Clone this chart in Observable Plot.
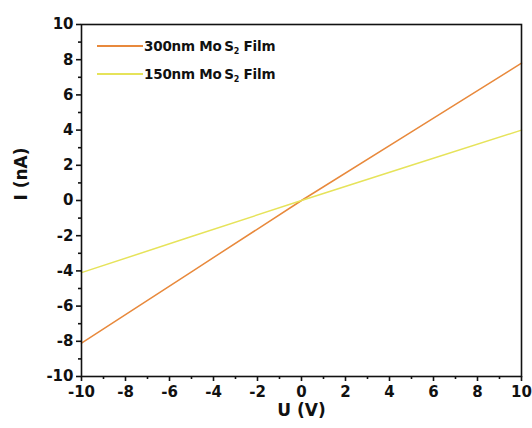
<!DOCTYPE html>
<html>
<head>
<meta charset="utf-8">
<script src="https://cdn.jsdelivr.net/npm/d3@7"></script>
<script src="https://cdn.jsdelivr.net/npm/@observablehq/plot@0.6"></script>
<style>
  html, body { margin: 0; padding: 0; background: #fff; }
  #wrap { position: relative; width: 532px; height: 428px; font-family: "DejaVu Sans", sans-serif; }
  #wrap svg [aria-label$="tick label"] text { font-size: 15px !important; font-weight: bold; }
  .leg { position: absolute; font-weight: bold; font-size: 13.5px; color: #111; white-space: nowrap; display: flex; align-items: center; letter-spacing: -0.2px; }
  .leg .sw { display: inline-block; width: 46px; height: 1.5px; margin-right: 1px; }
  .leg sub { font-size: 8px; vertical-align: -3px; line-height: 0; }
</style>
</head>
<body>
<div id="wrap"></div>
<script>
// Data
const voltage = [-10, -5, 0, 5, 10];
const current300 = [-8.1, -4.05, 0, 3.9, 7.8];
const current150 = [-4.1, -2.05, 0, 2.0, 4.0];
const seriesNames = ["300nm MoS2 Film", "150nm MoS2 Film"];
const seriesColors = ["#e8893c", "#e6e35a"];
const majorTicks = [-10, -8, -6, -4, -2, 0, 2, 4, 6, 8, 10];
const minorTicks = [-9, -7, -5, -3, -1, 1, 3, 5, 7, 9];
const xLabel = "U (V)";
const yLabel = "I (nA)";

const rows = [];
voltage.forEach((u, i) => {
  rows.push({series: seriesNames[0], u, i: current300[i]});
  rows.push({series: seriesNames[1], u, i: current150[i]});
});

const chart = Plot.plot({
  width: 532,
  height: 428,
  marginLeft: 81,
  marginRight: 11,
  marginTop: 24,
  marginBottom: 52,
  style: {fontFamily: "'DejaVu Sans', sans-serif", fontSize: "15px", fontWeight: "bold", color: "#111", background: "#fff"},
  x: {domain: [-10, 10]},
  y: {domain: [-10, 10]},
  color: {domain: seriesNames, range: seriesColors},
  marks: [
    Plot.line(rows, {x: "u", y: "i", z: "series", stroke: "series", strokeWidth: 1.5}),
    Plot.frame({stroke: "#111", strokeWidth: 1.6}),
    Plot.axisX({ticks: majorTicks, tickSize: 5, tickPadding: 5, strokeWidth: 1.6, label: null, tickFormat: d => String(d), fontSize: 15, fontWeight: "bold"}),
    Plot.axisX({ticks: minorTicks, tickSize: 3, strokeWidth: 1.6, label: null, tickFormat: () => ""}),
    Plot.axisY({ticks: majorTicks, tickSize: 5, tickPadding: 3, strokeWidth: 1.6, label: null, tickFormat: d => String(d), fontSize: 15, fontWeight: "bold"}),
    Plot.axisY({ticks: minorTicks, tickSize: 3, strokeWidth: 1.6, label: null, tickFormat: () => ""}),
    Plot.text([xLabel], {frameAnchor: "bottom", dy: 39, fontSize: 17, fontWeight: "bold", fill: "#111"}),
    Plot.text([yLabel], {frameAnchor: "left", dx: -60, rotate: -90, fontSize: 17, fontWeight: "bold", fill: "#111"})
  ]
});

const wrap = document.getElementById("wrap");
wrap.appendChild(chart);

// Legend
const legendTop = [38, 66];
seriesNames.forEach((name, k) => {
  const d = document.createElement("div");
  d.className = "leg";
  d.style.left = "97px";
  d.style.top = legendTop[k] + "px";
  const sw = document.createElement("span");
  sw.className = "sw";
  sw.style.background = seriesColors[k];
  d.appendChild(sw);
  const t = document.createElement("span");
  t.innerHTML = name.replace("MoS2", "Mo&#8201;S<sub>2</sub>");
  d.appendChild(t);
  wrap.appendChild(d);
});
</script>
</body>
</html>
